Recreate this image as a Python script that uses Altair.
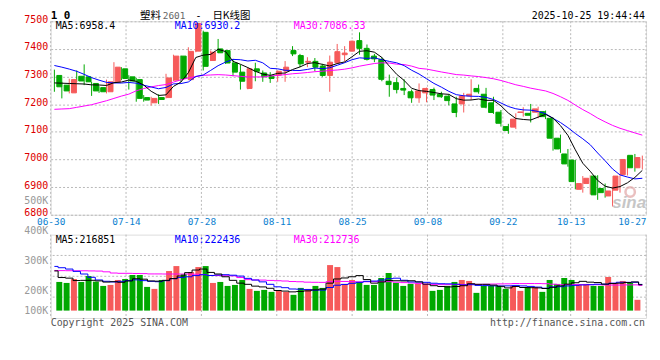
import altair as alt
import pandas as pd

# ---------------- data ----------------
DATES = ["06-30",
 "07-01","07-02","07-03","07-04","07-07","07-08","07-09","07-10","07-11",
 "07-14","07-15","07-16","07-17","07-18","07-21","07-22","07-23","07-24","07-25",
 "07-28","07-29","07-30","07-31","08-01","08-04","08-05","08-06","08-07","08-08",
 "08-11","08-12","08-13","08-14","08-15","08-18","08-19","08-20","08-21","08-22",
 "08-25","08-26","08-27","08-28","08-29","09-01","09-02","09-03","09-04","09-05",
 "09-08","09-09","09-10","09-11","09-12","09-15","09-16","09-17","09-18","09-19",
 "09-22","09-23","09-24","09-25","09-26","09-29","09-30","10-09","10-10",
 "10-13","10-14","10-15","10-16","10-17","10-20","10-21","10-22","10-23","10-24","10-27"]

LABEL_DATES = ["06-30", "07-14", "07-28", "08-11", "08-25", "09-08", "09-22", "10-13", "10-27"]
PRICE_TICKS = [6800, 6900, 7000, 7100, 7200, 7300, 7400, 7500]
VOL_TICKS = [100000, 200000, 300000, 400000, 500000]

OPEN = [7304,7269,7241,7301,7299,7275,7260,7245,7281,7328,
        7299,7289,7224,7205,7224,7224,7287,7374,7289,7392,
        7460,7358,7400,7394,7349,7316,7257,7328,7313,7301,
        7305,7320,7394,7376,7352,7355,7338,7304,7350,7379,
        7392,7430,7402,7374,7362,7283,7278,7257,7245,7223,
        7241,7253,7236,7229,7201,7201,7230,7257,7236,7205,
        7171,7119,7117,7170,7167,7171,7173,7149,7077,7020,
        6998,6892,6913,6940,6895,6868,6889,6945,7015,6970]
HIGH = [7325,7281,7292,7322,7344,7281,7265,7289,7352,7334,
        7305,7295,7233,7227,7236,7310,7379,7376,7406,7496,
        7466,7394,7436,7396,7364,7343,7332,7350,7322,7316,
        7322,7356,7410,7382,7370,7367,7346,7376,7418,7410,
        7430,7460,7416,7382,7370,7307,7296,7290,7253,7275,
        7260,7260,7245,7236,7227,7241,7290,7271,7259,7227,
        7179,7129,7167,7189,7201,7191,7177,7152,7090,7038,
        6998,6940,6943,6943,6913,6902,6943,7012,7020,7014]
LOW = [7245,7221,7239,7281,7269,7230,7241,7239,7278,7287,
       7253,7209,7209,7195,7201,7221,7284,7281,7287,7388,
       7322,7356,7385,7346,7301,7253,7254,7283,7281,7277,
       7281,7281,7374,7334,7334,7319,7299,7245,7346,7355,
       7391,7379,7358,7352,7283,7227,7239,7233,7205,7205,
       7207,7215,7223,7196,7153,7170,7215,7238,7185,7165,
       7119,7093,7110,7155,7134,7149,7146,7032,7024,6974,
       6892,6880,6874,6854,6862,6830,6880,6942,6956,6964]
CLOSE = [7263,7248,7289,7284,7281,7248,7245,7281,7334,7293,
         7284,7221,7215,7221,7217,7295,7374,7293,7391,7492,
         7337,7388,7386,7349,7316,7283,7328,7319,7299,7293,
         7319,7334,7382,7346,7355,7334,7304,7352,7390,7385,
         7428,7402,7362,7364,7290,7271,7253,7251,7223,7248,
         7257,7233,7227,7213,7170,7230,7236,7245,7189,7170,
         7131,7105,7146,7172,7160,7183,7155,7077,7038,6984,
         6920,6913,6932,6872,6880,6886,6940,7000,6970,7007]

MA5 = [7277,7276,7275,7274,7273.0,7270.0,7269.4,7267.8,7277.8,7280.2,
       7287.4,7282.6,7269.4,7246.8,7231.6,7233.8,7264.4,7280.0,7314.0,7369.0,
       7377.4,7380.2,7398.8,7390.4,7355.2,7344.4,7332.4,7319.0,7309.0,7304.4,
       7311.6,7312.8,7325.4,7334.8,7347.2,7350.2,7344.2,7338.2,7347.0,7353.0,
       7371.8,7391.4,7393.4,7388.2,7369.2,7337.8,7308.0,7285.8,7257.6,7249.2,
       7246.4,7242.4,7237.6,7235.6,7220.0,7214.6,7215.2,7218.8,7214.0,7214.0,
       7194.2,7168.0,7148.2,7144.8,7142.8,7153.2,7163.2,7149.4,7122.6,7087.4,
       7034.8,6986.4,6957.4,6924.2,6903.4,6896.6,6902.0,6915.6,6935.2,6960.6]
MA10 = [7340,7334,7327,7319,7308,7296,7287,7279,7277,7276.6,
        7278.7,7276.0,7268.6,7262.3,7255.9,7260.6,7273.5,7274.7,7280.4,7300.3,
        7305.6,7322.3,7339.4,7352.2,7362.1,7360.9,7356.3,7358.9,7349.7,7329.8,
        7328.0,7322.6,7322.2,7321.9,7325.8,7330.9,7328.5,7331.8,7340.9,7350.1,
        7361.0,7367.8,7365.8,7367.6,7361.1,7354.8,7349.7,7339.6,7322.9,7309.2,
        7292.1,7275.2,7261.7,7246.6,7234.6,7230.5,7228.8,7228.2,7224.8,7217.0,
        7204.4,7191.6,7183.5,7179.4,7178.4,7173.7,7165.6,7148.8,7133.7,7115.1,
        7094.0,7074.8,7053.4,7023.4,6995.4,6965.7,6944.2,6936.5,6929.7,6932.0]
MA30 = [7181.5,7182.7,7183.9,7188.6,7193.4,7198.2,7205.4,7212.5,7220.9,7229.3,
        7236.4,7248.4,7256.7,7262.7,7267.5,7271.1,7280.0,7288.0,7295.0,7300.0,
        7304.5,7305.7,7306.9,7305.7,7303.3,7300.9,7298.6,7298.6,7298.6,7302.2,
        7304.1,7307.0,7310.1,7312.1,7314.6,7317.5,7319.4,7321.8,7323.7,7326.7,
        7331.5,7337.6,7342.5,7347.2,7349.7,7348.9,7344.8,7343.4,7337.8,7329.7,
        7327.0,7321.9,7316.6,7312.0,7307.2,7305.4,7302.3,7299.9,7296.2,7292.1,
        7285.8,7278.2,7270.3,7264.5,7258.0,7253.0,7248.0,7238.9,7227.1,7213.8,
        7196.8,7180.5,7166.2,7149.8,7136.1,7123.3,7112.9,7104.5,7096.1,7088.0]

VOLUME = [235300,232000,245200,235300,255100,236400,222100,225400,241900,245200,
          258400,258400,218800,212200,241900,271600,288100,261700,268300,284800,
          288100,232000,235300,222100,225400,241900,212200,205600,208900,202300,
          205600,202300,192400,215500,212200,222100,215500,291400,284800,228700,
          241900,235300,225400,225400,248500,265000,232000,222100,228700,228700,
          228700,205600,208900,222100,235300,241900,238600,199000,222100,222100,
          222100,212200,222100,205600,218800,218800,202300,241900,228700,248500,
          241900,225400,228700,222100,222100,251800,232000,238600,232000,175900]
VMA5 = [272000,250000,248000,240000,240600,240800,238800,234900,236200,234200,
        238600,245900,244500,238600,237900,240600,246500,255100,266300,274900,
        278200,267000,261700,252500,240600,231300,227400,221400,218800,214200,
        206900,204900,202300,203600,205600,208900,211500,231300,245200,248500,
        252500,256400,243200,231300,235300,239900,239300,238600,239300,235300,
        228000,222800,220100,218800,220100,222800,229400,227400,227400,224700,
        220800,215500,220100,216800,216200,215500,213500,217500,222100,228000,
        232700,237300,234600,233300,228000,230000,231300,233300,235300,226100]
VMA10 = [287000,282600,278200,270500,261700,250700,241900,237500,235300,237400,
         239700,242300,239700,237400,236100,239600,246200,249800,252500,256400,
         259400,256800,258400,259400,257700,254800,247200,241600,235600,227400,
         219100,216200,211900,211200,209900,207900,208200,216800,224400,227100,
         230700,234000,237300,238300,241900,246200,247800,240900,235300,235300,
         234000,231000,229400,229000,227700,225400,226100,223800,223100,222400,
         221800,222400,223800,222100,220500,218100,214500,218800,219500,222100,
         224100,225400,226100,227700,228000,231300,234300,234000,234300,227100]
VMA30 = [273000,273000,272700,272500,272500,272000,271500,269000,265000,264000,
         264000,263500,263000,262000,262000,261700,261700,261500,261500,261000,
         260000,257000,256500,256000,255500,250000,243000,242000,241500,240400,
         239400,238400,236700,236000,234600,234100,233900,236100,237500,237000,
         236400,235600,235900,236300,236500,236300,234400,233100,231800,229900,
         227900,227100,226200,226200,226500,226500,227400,227200,227600,228300,
         228800,229100,230100,229800,230000,229900,229500,227800,226000,226600,
         226600,226300,226400,226300,225400,225000,225000,225500,225600,223900]

MA_NAMES = ["MA5", "MA10", "MA30"]
PRICE_MA_LAST = ["6958.4", "6930.2", "7086.33"]
VOL_MA_LAST = ["216851", "222436", "212736"]
BAR_BASE = 140000

# ---------------- style ----------------
MONO = "DejaVu Sans Mono"
CJK = "Noto Sans CJK SC"
UP = "#f65a5a"
DOWN = "#00a800"
GRID = "#b8b8b8"
BORDER = "#9c9c9c"
MA_COLORS = ["#000000", "#0000ff", "#ff00ff"]
W, PH, VH = 600, 195, 84
HEAD_Y = -2.5
N = len(DATES)

candles = pd.DataFrame({"idx": range(N), "date": DATES, "open": OPEN, "high": HIGH,
                        "low": LOW, "close": CLOSE, "volume": VOLUME})
candles["dir"] = ["up" if c >= o else "down" for o, c in zip(OPEN, CLOSE)]
ticks_df = pd.DataFrame({"date": LABEL_DATES})

x_idx = alt.X("idx:Q", scale=alt.Scale(domain=[-0.5, N - 0.5], nice=False, zero=False), axis=None)
dir_color = alt.Color("dir:N", scale=alt.Scale(domain=["up", "down"], range=[UP, DOWN]), legend=None)
dir_stroke = alt.Stroke("dir:N", scale=alt.Scale(domain=["up", "down"], range=[UP, DOWN]), legend=None)
date_scale = alt.Scale(type="point", domain=DATES, padding=0)


def txt(text, x, y, color="#000000", size=10, font=MONO, align="left", weight="normal",
        style="normal", baseline="alphabetic", opacity=1.0):
    return alt.Chart(pd.DataFrame({"t": [text]})).mark_text(
        align=align, baseline=baseline, font=font, fontSize=size, color=color,
        fontWeight=weight, fontStyle=style, opacity=opacity
    ).encode(text="t:N", x=alt.value(x), y=alt.value(y))


def ma_layer(values, color, y_enc_kwargs, interpolate="linear"):
    d = pd.DataFrame({"idx": range(len(values)), "value": values})
    return alt.Chart(d).mark_line(strokeWidth=1, color=color, interpolate=interpolate).encode(
        x=x_idx, y=alt.Y("value:Q", **y_enc_kwargs))


# ---------------- price panel ----------------
price_scale = alt.Scale(domain=[6800, 7500], nice=False, zero=False)
price_axis = alt.Axis(values=PRICE_TICKS, format="d", title=None, grid=True, gridColor=GRID,
                      gridDash=[2, 2], ticks=False, domain=False, labelColor="#dd0000",
                      labelFont=MONO, labelFontSize=10, labelPadding=3, labelOffset=-2)

vgrid_p = alt.Chart(ticks_df).mark_rule(color=GRID, strokeDash=[2, 2], strokeWidth=1).encode(
    x=alt.X("date:O", scale=date_scale,
            axis=alt.Axis(values=LABEL_DATES, orient="bottom", title=None, labelAngle=0,
                          ticks=False, domain=False, grid=False, labelColor="#0b7fd0",
                          labelFont=MONO, labelFontSize=9.5, labelPadding=2, labelBaseline="top",
                          labelAlign={"condition": {"test": "datum.index == 1", "value": "right"},
                                      "value": "center"}))
)

wick = alt.Chart(candles).mark_rule(strokeWidth=1).encode(
    x=x_idx, y=alt.Y("low:Q", scale=price_scale, axis=price_axis), y2="high:Q", color=dir_color)
body = alt.Chart(candles).mark_bar(width=5, strokeWidth=1).encode(
    x=x_idx, y=alt.Y("open:Q", scale=price_scale, axis=price_axis), y2="close:Q",
    color=dir_color, stroke=dir_stroke)
p_kw = dict(scale=price_scale, axis=price_axis)
price_lines = [ma_layer(MA30, MA_COLORS[2], p_kw),
               ma_layer(MA10, MA_COLORS[1], p_kw),
               ma_layer(MA5, MA_COLORS[0], p_kw)]

logo = alt.Chart(pd.DataFrame({"t": ["logo"]})).mark_point(
    shape="circle", size=90, filled=False, strokeWidth=2.5, color="#e2a6a6", opacity=0.7
).encode(x=alt.value(584), y=alt.value(172))

price_texts = [
    txt(f"{MA_NAMES[0]}:{PRICE_MA_LAST[0]}", 5, 8, MA_COLORS[0]),
    txt(f"{MA_NAMES[1]}:{PRICE_MA_LAST[1]}", 125, 8, MA_COLORS[1]),
    txt(f"{MA_NAMES[2]}:{PRICE_MA_LAST[2]}", 245, 8, MA_COLORS[2]),
    txt("sina", 600, 188, "#bdbdbd", size=17, font="Liberation Sans", align="right",
        weight="bold", style="italic", opacity=0.85),
    txt("1 0", 0, HEAD_Y, "#000000", size=11, weight="bold"),
    txt("塑料", 90, HEAD_Y, "#000000", size=10.5, font=CJK),
    txt("2601", 113, HEAD_Y, "#666666", size=9.5),
    txt("-", 146, HEAD_Y, "#000000", size=10),
    txt("日K线图", 163, HEAD_Y, "#000000", size=10.5, font=CJK),
    txt("2025-10-25 19:44:44", 599, HEAD_Y, "#000000", size=10, align="right"),
]

price = alt.layer(vgrid_p, wick, body, *price_lines, logo, *price_texts).resolve_scale(
    x="independent").properties(width=W, height=PH)

# ---------------- volume panel ----------------
vol_scale = alt.Scale(domain=[100000, 500000], range=[88.7, -32.5], nice=False, zero=False)
vol_axis = alt.Axis(values=VOL_TICKS, orient="left", title=None, grid=False, ticks=False,
                    domain=False, labelColor="#999999", labelFont=MONO, labelFontSize=10,
                    labelPadding=3, labelExpr="(datum.value / 1000) + 'K'",
                    labelOffset={"condition": {"test": "datum.value < 150000", "value": -12},
                                 "value": -2})

hgrid_v = alt.Chart(pd.DataFrame({"q": [1, 2, 3]})).mark_rule(
    color=GRID, strokeDash=[2, 2], strokeWidth=1).encode(
    y=alt.Y("q:Q", scale=alt.Scale(domain=[0, 4], nice=False, zero=False), axis=None))
vgrid_v = alt.Chart(ticks_df).mark_rule(color=GRID, strokeDash=[2, 2], strokeWidth=1).encode(
    x=alt.X("date:O", scale=date_scale, axis=None))
bars = alt.Chart(candles).mark_bar(width=6).encode(
    x=x_idx, y=alt.Y("volume:Q", scale=vol_scale, axis=vol_axis), y2=alt.datum(BAR_BASE),
    color=dir_color)
v_kw = dict(scale=vol_scale, axis=None)
vol_lines = [ma_layer(VMA30, MA_COLORS[2], v_kw, "step"),
             ma_layer(VMA10, MA_COLORS[1], v_kw, "step"),
             ma_layer(VMA5, MA_COLORS[0], v_kw, "step")]

vol_texts = [
    txt(f"{MA_NAMES[0]}:{VOL_MA_LAST[0]}", 5, 8, MA_COLORS[0]),
    txt(f"{MA_NAMES[1]}:{VOL_MA_LAST[1]}", 125, 8, MA_COLORS[1]),
    txt(f"{MA_NAMES[2]}:{VOL_MA_LAST[2]}", 245, 8, MA_COLORS[2]),
    txt("Copyright 2025 SINA.COM", 0, 92, "#555555"),
    txt("http://finance.sina.com.cn", 599, 92, "#555555", align="right"),
]

volume = alt.layer(hgrid_v, vgrid_v, bars, *vol_lines, *vol_texts).resolve_scale(
    x="independent", y="independent").properties(width=W, height=VH)

chart = alt.vconcat(price, volume, spacing=20, bounds="flush").properties(
    padding={"left": 15, "top": 0, "right": 5, "bottom": 5}
).configure_view(stroke=BORDER, strokeWidth=1).configure(background="#ffffff")

chart.save("out.html", embed_options={"renderer": "svg", "actions": False})
